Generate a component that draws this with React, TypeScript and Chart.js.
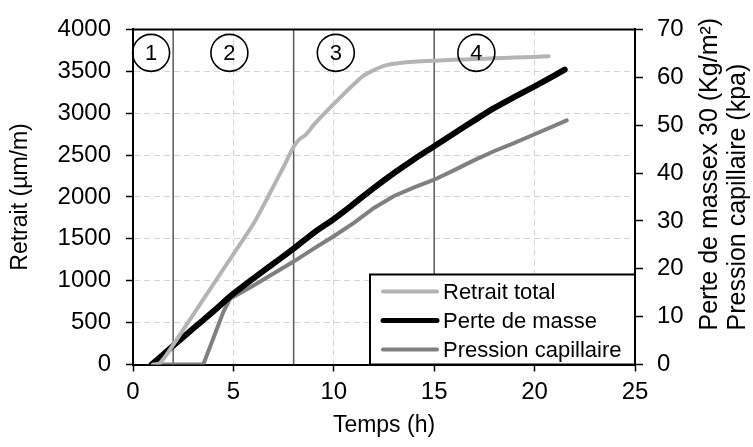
import React, { useEffect, useRef } from 'react';
import { Chart, registerables } from 'chart.js';

Chart.register(...registerables);

const FONT = "'Liberation Sans', Arial, Helvetica, sans-serif";

// Series names
const seriesNames = ['Retrait total', 'Perte de masse', 'Pression capillaire'];

// Retrait total (µm/m), left axis
const retraitT = [1.0, 1.35, 2, 3, 4, 5, 6, 6.5, 7, 7.5, 8, 8.3, 8.6, 9, 9.5, 10, 10.5, 11, 11.5, 12, 12.5, 13, 13.5, 14, 15, 16, 17, 18, 19, 20, 20.7];
const retraitV = [0, 20, 235, 596, 957, 1318, 1680, 1900, 2130, 2360, 2600, 2690, 2740, 2860, 2990, 3110, 3230, 3345, 3450, 3515, 3565, 3590, 3605, 3615, 3627, 3637, 3646, 3655, 3664, 3672, 3680];

// Perte de masse x 30 (Kg/m²), right axis
const masseT = [0.93, 2, 3, 4, 5, 6, 7, 8, 9, 10, 11, 12, 13, 14, 15, 16, 17, 18, 19, 20, 21, 21.5];
const masseV = [0, 3.9, 7.5, 11.1, 14.8, 18.0, 21.1, 24.2, 27.5, 30.4, 33.6, 36.9, 40.0, 42.9, 45.6, 48.3, 51.0, 53.6, 55.9, 58.1, 60.4, 61.6];

// Pression capillaire (kpa), right axis
const pressionT = [0.9, 3.5, 4.0, 4.5, 4.85, 5.5, 6, 7, 8, 9, 10, 11, 12, 13, 14, 15, 16, 17, 18, 19, 20, 21, 21.6];
const pressionV = [0, 0, 5.5, 11, 13.8, 15.3, 16.5, 19.0, 21.5, 24.2, 26.8, 29.6, 32.7, 35.2, 37.0, 38.6, 40.6, 42.7, 44.6, 46.3, 48.1, 49.9, 51.0];

// Phase boundaries (h) and circled phase labels
const phaseBounds = [2, 8, 15];
const phaseLabels = ['1', '2', '3', '4'];
const phaseLabelT = [0.9, 4.8, 10.1, 17.1];
const phaseLabelY = 3720;

// Axis texts
const xTitle = 'Temps (h)';
const yTitle = 'Retrait (µm/m)';
const y1Title = ['Perte de massex 30 (Kg/m²)', 'Pression capillaire (kpa)'];

const colors = ['#b4b4b4', '#000000', '#808080'];
const widths = [4, 6, 4];

const toPts = (t: number[], v: number[]) => t.map((x, i) => ({ x, y: v[i] }));

const overlay = {
  id: 'overlay',
  beforeDatasetsDraw(chart: any) {
    const { ctx, chartArea, scales } = chart;
    ctx.save();
    ctx.strokeStyle = '#5a5a5a';
    ctx.lineWidth = 1.5;
    phaseBounds.forEach((t) => {
      const x = scales.x.getPixelForValue(t);
      ctx.beginPath();
      ctx.moveTo(x, chartArea.top);
      ctx.lineTo(x, chartArea.bottom);
      ctx.stroke();
    });
    ctx.restore();
  },
  afterDatasetsDraw(chart: any) {
    const { ctx, chartArea, scales } = chart;
    ctx.save();
    // top frame line
    ctx.strokeStyle = '#000';
    ctx.lineWidth = 2;
    ctx.beginPath();
    ctx.moveTo(chartArea.left - 1, chartArea.top);
    ctx.lineTo(chartArea.right + 1, chartArea.top);
    ctx.stroke();

    // circled phase numbers
    ctx.lineWidth = 1.6;
    ctx.font = `22px ${FONT}`;
    ctx.fillStyle = '#000';
    ctx.textAlign = 'center';
    ctx.textBaseline = 'middle';
    phaseLabels.forEach((lab, i) => {
      const x = scales.x.getPixelForValue(phaseLabelT[i]);
      const y = scales.y.getPixelForValue(phaseLabelY);
      ctx.beginPath();
      ctx.arc(x, y, 18.5, 0, Math.PI * 2);
      ctx.stroke();
      ctx.fillText(lab, x, y + 1);
    });

    // legend box
    const lw = 265, lh = 90;
    const lx = chartArea.right - lw, ly = chartArea.bottom - lh;
    ctx.fillStyle = '#fff';
    ctx.fillRect(lx, ly, lw, lh);
    ctx.strokeStyle = '#000';
    ctx.lineWidth = 2;
    ctx.strokeRect(lx, ly, lw, lh);
    ctx.font = `22px ${FONT}`;
    ctx.textAlign = 'left';
    ctx.textBaseline = 'middle';
    chart.data.datasets.forEach((ds: any, i: number) => {
      const cy = ly + 17 + i * 29;
      ctx.strokeStyle = ds.borderColor;
      ctx.lineWidth = i === 1 ? 5 : 4;
      ctx.lineCap = 'round';
      ctx.beginPath();
      ctx.moveTo(lx + 13, cy);
      ctx.lineTo(lx + 67, cy);
      ctx.stroke();
      ctx.fillStyle = '#000';
      ctx.fillText(ds.label, lx + 73, cy + 1);
    });
    ctx.restore();
  },
  afterDraw(chart: any) {
    const { ctx, chartArea, scales } = chart;
    const r = scales.y1.right;
    ctx.save();
    ctx.font = `25px ${FONT}`;
    ctx.fillStyle = '#000';
    ctx.textAlign = 'left';
    ctx.textBaseline = 'middle';
    const xs = [r - 43, r - 15];
    y1Title.forEach((txt, i) => {
      ctx.save();
      ctx.translate(xs[i], chartArea.bottom - 34);
      ctx.rotate(-Math.PI / 2);
      ctx.fillText(txt, 0, 0);
      ctx.restore();
    });
    ctx.restore();
  },
};

export default function App() {
  const ref = useRef<HTMLCanvasElement | null>(null);

  useEffect(() => {
    if (!ref.current) return;
    const tickFont = { family: FONT, size: 24 };
    const plain = (v: any) => String(v);
    const chart = new Chart(ref.current, {
      type: 'line',
      data: {
        datasets: [
          {
            label: seriesNames[0],
            data: toPts(retraitT, retraitV),
            borderColor: colors[0],
            borderWidth: widths[0],
            pointRadius: 0,
            yAxisID: 'y',
            tension: 0.3,
            borderCapStyle: 'round',
          },
          {
            label: seriesNames[1],
            data: toPts(masseT, masseV),
            borderColor: colors[1],
            borderWidth: widths[1],
            pointRadius: 0,
            yAxisID: 'y1',
            tension: 0.3,
            borderCapStyle: 'round',
          },
          {
            label: seriesNames[2],
            data: toPts(pressionT, pressionV),
            borderColor: colors[2],
            borderWidth: widths[2],
            pointRadius: 0,
            yAxisID: 'y1',
            tension: 0,
            borderCapStyle: 'round',
          },
        ],
      },
      options: {
        responsive: false,
        animation: false,
        devicePixelRatio: 1,
        layout: { padding: { top: 19.5, left: 0, right: 0, bottom: 0 } },
        plugins: { legend: { display: false }, tooltip: { enabled: false } },
        scales: {
          x: {
            type: 'linear',
            min: 0,
            max: 25,
            ticks: { stepSize: 5, color: '#000', font: tickFont, padding: 6, maxRotation: 0, callback: plain },
            grid: { color: '#d4d4d4', lineWidth: 1, tickLength: 7, tickColor: '#000', tickWidth: 1.5, tickBorderDash: [] },
            border: { color: '#000', width: 2, dash: [6, 4] },
            title: { display: true, text: xTitle, color: '#000', font: { family: FONT, size: 23 }, padding: { top: 0, bottom: 8 } },
            afterFit: (s: any) => { s.height = 82.5; },
          },
          y: {
            position: 'left',
            min: 0,
            max: 4000,
            ticks: { stepSize: 500, color: '#000', font: tickFont, padding: 15, callback: plain },
            grid: { color: '#d4d4d4', lineWidth: 1, tickLength: 7, tickColor: '#000', tickWidth: 1.5, tickBorderDash: [] },
            border: { color: '#000', width: 2, dash: [6, 4] },
            title: { display: true, text: yTitle, color: '#000', font: { family: FONT, size: 23 }, padding: { top: 7, bottom: 0 } },
            afterFit: (s: any) => { s.width = 133; },
          },
          y1: {
            position: 'right',
            min: 0,
            max: 70,
            ticks: { stepSize: 10, color: '#000', font: tickFont, padding: 14, callback: plain },
            grid: { drawOnChartArea: false, tickLength: 8, tickColor: '#000', tickWidth: 1.5, tickBorderDash: [] },
            border: { color: '#000', width: 2 },
            afterFit: (s: any) => { s.width = 118; },
          },
        },
      },
      plugins: [overlay],
    } as any);
    return () => chart.destroy();
  }, []);

  return (
    <div style={{ position: 'fixed', left: 0, top: 0, width: 753, height: 447, background: '#fff' }}>
      <canvas ref={ref} width={753} height={447} style={{ display: 'block' }} />
    </div>
  );
}
